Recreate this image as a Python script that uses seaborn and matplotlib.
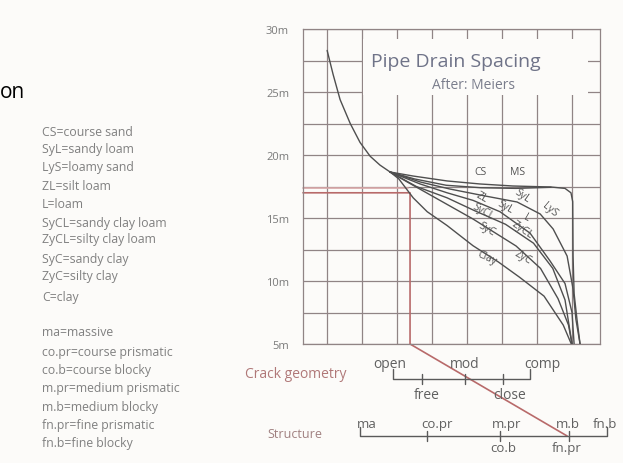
import matplotlib
matplotlib.use("Agg")
import matplotlib.pyplot as plt
from matplotlib.patches import Rectangle
import pandas as pd
import seaborn as sns

# spacing curves (x = arbitrary soil scale, y = drain spacing in m)
stem_x = [0, 0.17, 0.37, 0.66, 0.94, 1.23, 1.51, 1.80]
stem_y = [28.3, 26.4, 24.4, 22.5, 21.0, 19.9, 19.2, 18.65]

cs_x = [1.80, 2.46, 3.43, 4.37, 5.31, 6.4, 6.8, 6.97, 7.02, 7.03, 7.06, 7.14, 7.23]
cs_y = [18.65, 18.33, 17.94, 17.70, 17.54, 17.46, 17.35, 17.0, 16.3, 12.0, 9.0, 7.0, 5.0]

ms_x = [1.80, 2.5, 3.4, 4.4, 5.4, 6.4]
ms_y = [18.65, 18.1, 17.6, 17.4, 17.35, 17.44]

syl_x = [1.80, 2.66, 3.51, 4.51, 5.43, 6.09, 6.46, 6.86, 7.03, 7.11, 7.23]
syl_y = [18.65, 17.86, 17.30, 16.75, 16.27, 15.32, 14.13, 11.98, 9.37, 6.98, 5.0]

zl_x = [1.80, 2.66, 3.43, 4.17, 4.94, 5.8, 6.37, 6.8, 7.0, 7.06]
zl_y = [18.65, 17.7, 17.0, 16.4, 15.5, 13.8, 11.6, 9.8, 7.5, 5.0]

sycl_x = [1.80, 2.55, 3.43, 4.2, 5.1, 5.9, 6.45, 6.8, 7.0]
sycl_y = [18.65, 17.5, 16.6, 15.6, 14.5, 13.0, 11.0, 8.5, 5.0]

zyc_x = [1.80, 2.29, 4.17, 5.4, 6.1, 6.6, 6.9, 7.0]
zyc_y = [18.65, 17.86, 14.92, 12.78, 11.0, 8.6, 6.5, 5.0]

clay_x = [1.80, 2.05, 2.46, 2.86, 3.43, 4.17, 4.9, 5.5, 6.2, 6.75, 6.98]
clay_y = [18.65, 18.1, 16.6, 15.5, 14.4, 12.8, 11.5, 10.3, 8.8, 6.5, 5.0]

curve_labels = ["CS", "MS", "SyL", "LyS", "ZL", "SyL", "SyCL", "L", "ZyCL", "SyC", "Clay", "ZyC"]
label_x = [4.37, 5.43, 5.57, 6.37, 4.43, 5.09, 4.46, 5.71, 5.57, 4.57, 4.57, 5.6]
label_y = [18.73, 18.73, 16.83, 15.7, 16.67, 15.95, 15.56, 15.08, 14.13, 14.13, 11.9, 11.9]
label_rot = [0, 0, -35, -40, -30, -30, -30, -30, -35, -30, -25, -30]

# red reading line
red_x = [-0.69, 2.37, 2.37, 6.86]
red_y = [17.0, 17.0, 5.0, -2.3]
red2_x = [-0.69, 2.3]
red2_y = [17.4, 17.4]

# crack geometry scale
crack_ticks = [1.89, 2.71, 3.94, 5.03, 5.8]
crack_top = ["open", "mod", "comp"]
crack_top_x = [1.8, 3.94, 6.14]
crack_bot = ["free", "close"]
crack_bot_x = [2.86, 5.23]

# structure scale
struct_ticks = [0.94, 2.86, 4.94, 6.91, 8.0]
struct_top = ["ma", "co.pr", "m.pr", "m.b", "fn.b"]
struct_top_x = [1.14, 3.14, 5.14, 6.89, 7.94]
struct_bot = ["co.b", "fn.pr"]
struct_bot_x = [5.03, 6.86]

soil_key = ["CS=course sand", "SyL=sandy loam", "LyS=loamy sand", "ZL=silt loam", "L=loam",
            "SyCL=sandy clay loam", "ZyCL=silty clay loam", "SyC=sandy clay", "ZyC=silty clay", "C=clay"]
struct_key = ["ma=massive", "co.pr=course prismatic", "co.b=course blocky", "m.pr=medium prismatic",
              "m.b=medium blocky", "fn.pr=fine prismatic", "fn.b=fine blocky"]

bg = "#fcfbf9"
gridc = "#908485"
linec = "#4f4f4f"
redc = "#b86a6a"
scalec = "#5a5a5a"

sns.set_theme(style="white")
plt.rcParams["font.family"] = ["Open Sans", "DejaVu Sans"]

fig = plt.figure(figsize=(6.23, 4.64), dpi=100, facecolor=bg)
ax = fig.add_axes([303 / 623, 1 - 345 / 464, 297 / 623, 315 / 464])
ax.set_facecolor(bg)
ax.set_xlim(-0.69, 7.8)
ax.set_ylim(5, 30)

ax.set_xticks(range(0, 8))
ax.set_yticks([5, 7.5, 10, 12.5, 15, 17.5, 20, 22.5, 25, 27.5, 30])
ax.set_yticklabels(["5m", "", "10m", "", "15m", "", "20m", "", "25m", "", "30m"])
ax.set_xticklabels([])
ax.tick_params(length=0, pad=10, labelsize=8, labelcolor="#7a7a7a")
ax.grid(True, color=gridc, linewidth=0.9)
ax.set_axisbelow(True)
for s in ax.spines.values():
    s.set_color(gridc)
    s.set_linewidth(0.9)

# blank area behind the title
ax.add_patch(Rectangle((1.03, 24.75), 6.42, 4.45, facecolor=bg, edgecolor="none", zorder=1))

curves = [(stem_x, stem_y), (cs_x, cs_y), (ms_x, ms_y), (syl_x, syl_y), (zl_x, zl_y),
          (sycl_x, sycl_y), (zyc_x, zyc_y), (clay_x, clay_y)]
for cx, cy in curves:
    sns.lineplot(x=cx, y=cy, sort=False, estimator=None, color=linec, linewidth=1.0, ax=ax, zorder=3)

for t, x, y, r in zip(curve_labels, label_x, label_y, label_rot):
    ax.text(x, y, t, fontsize=7.5, color="#555555", rotation=r, ha="center", va="center", zorder=4)

ax.plot(red_x, red_y, color=redc, linewidth=1.2, clip_on=False, zorder=2)
ax.plot(red2_x, red2_y, color="#d9a8a8", linewidth=1.2, clip_on=False, zorder=2)

ax.text(3.69, 27.45, "Pipe Drain Spacing", fontsize=14, color="#6f7388", ha="center", va="center")
ax.text(4.17, 25.6, "After: Meiers", fontsize=10, color="#7a7d8c", ha="center", va="center")

# crack geometry scale below the chart
cy0 = 2.22
ax.plot([crack_ticks[0], crack_ticks[0], crack_ticks[-1], crack_ticks[-1]], [3.0, cy0, cy0, 3.0],
        color=scalec, linewidth=1.0, clip_on=False)
for x in crack_ticks[1:-1]:
    ax.plot([x, x], [2.6, 1.85], color=scalec, linewidth=1.0, clip_on=False)
for t, x in zip(crack_top, crack_top_x):
    ax.text(x, 3.45, t, fontsize=10, color="#606060", ha="center", va="center")
for t, x in zip(crack_bot, crack_bot_x):
    ax.text(x, 1.0, t, fontsize=10, color="#606060", ha="center", va="center")
ax.text(-0.91, 2.62, "Crack geometry", fontsize=10, color="#b07878", ha="center", va="center")

# structure scale
sy0 = -2.3
ax.plot([struct_ticks[0], struct_ticks[0], struct_ticks[-1], struct_ticks[-1]], [-1.55, sy0, sy0, -1.55],
        color=scalec, linewidth=1.0, clip_on=False)
for x in struct_ticks[1:-1]:
    ax.plot([x, x], [-1.9, -2.7], color=scalec, linewidth=1.0, clip_on=False)
for t, x in zip(struct_top, struct_top_x):
    ax.text(x, -1.3, t, fontsize=9.5, color="#606060", ha="center", va="center")
for t, x in zip(struct_bot, struct_bot_x):
    ax.text(x, -3.25, t, fontsize=9.5, color="#606060", ha="center", va="center")
ax.text(-0.91, -2.14, "Structure", fontsize=9, color="#a08080", ha="center", va="center")

# key on the left
soil_py = [132, 150, 168, 187, 205, 223, 240, 259, 277, 297]
struct_py = [333, 353, 371, 389, 407, 426, 444]
for t, py in zip(soil_key + struct_key, soil_py + struct_py):
    fig.text(42 / 623, 1 - py / 464, t, fontsize=8.8, color="#808080", va="center", ha="left")

fig.text(0.0, 1 - 92 / 464, "on", fontsize=15, color="black", va="center", ha="left")

fig.savefig("out.png", dpi=100, facecolor=bg)
